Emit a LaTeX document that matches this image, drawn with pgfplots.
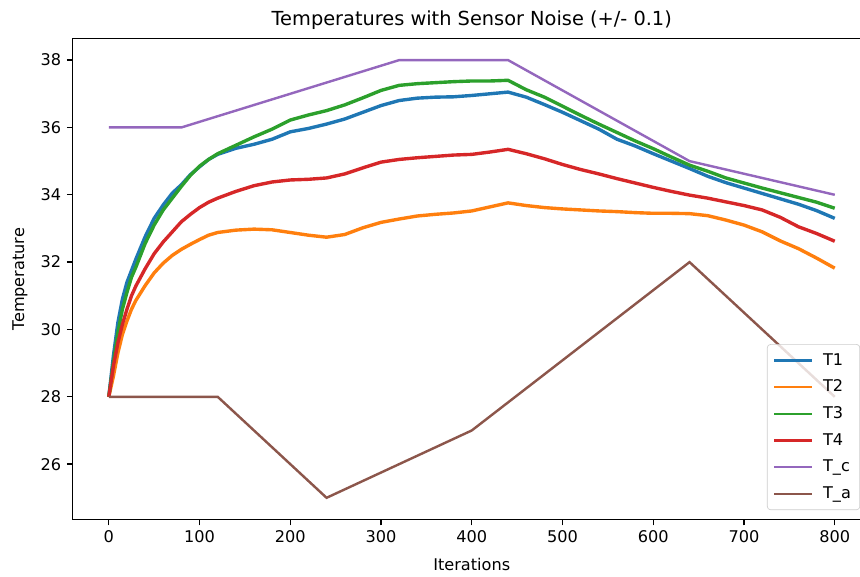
\documentclass[border=0pt]{standalone}
\usepackage{fontspec}
\setmainfont{DejaVu Sans}
\usepackage{pgfplots}
\usepackage{pgfplotstable}
\pgfplotsset{compat=1.18}
\definecolor{cA}{HTML}{1F77B4}
\definecolor{cB}{HTML}{FF7F0E}
\definecolor{cC}{HTML}{2CA02C}
\definecolor{cD}{HTML}{D62728}
\definecolor{cE}{HTML}{9467BD}
\definecolor{cF}{HTML}{8C564B}

\pgfplotstableread{
it T1 T2 T3 T4
0 28.00 28.00 28.00 28.00
5 29.20 28.60 29.00 28.90
10 30.20 29.30 29.90 29.60
15 30.90 29.85 30.60 30.15
20 31.40 30.25 31.10 30.60
25 31.75 30.60 31.55 31.00
30 32.10 30.87 31.86 31.30
40 32.75 31.30 32.55 31.80
50 33.30 31.68 33.10 32.25
60 33.70 31.97 33.55 32.60
70 34.05 32.20 33.90 32.90
80 34.30 32.38 34.25 33.20
90 34.60 32.53 34.58 33.42
100 34.83 32.67 34.85 33.62
110 35.05 32.80 35.05 33.78
120 35.20 32.88 35.22 33.90
140 35.38 32.95 35.47 34.10
160 35.50 32.98 35.72 34.27
180 35.65 32.96 35.95 34.38
200 35.87 32.88 36.22 34.44
220 35.97 32.80 36.37 34.46
240 36.10 32.74 36.50 34.50
260 36.25 32.82 36.67 34.62
280 36.45 33.02 36.88 34.80
300 36.65 33.18 37.10 34.97
320 36.80 33.28 37.25 35.05
340 36.87 33.37 37.30 35.10
360 36.90 33.42 37.33 35.14
380 36.91 33.46 37.36 35.18
400 36.95 33.52 37.38 35.20
420 37.00 33.64 37.38 35.27
440 37.05 33.76 37.40 35.35
460 36.90 33.68 37.12 35.22
480 36.68 33.62 36.90 35.07
500 36.45 33.58 36.63 34.90
520 36.20 33.55 36.36 34.75
540 35.95 33.52 36.10 34.62
560 35.65 33.50 35.85 34.48
580 35.45 33.47 35.60 34.35
600 35.22 33.45 35.37 34.22
620 35.00 33.45 35.12 34.10
640 34.78 33.44 34.88 33.99
660 34.55 33.38 34.70 33.90
680 34.36 33.25 34.50 33.79
700 34.20 33.10 34.35 33.68
720 34.04 32.90 34.20 33.55
740 33.88 32.63 34.06 33.33
760 33.72 32.40 33.92 33.05
780 33.53 32.12 33.78 32.85
800 33.30 31.82 33.60 32.62
}\temps

\pgfplotstableread{
it Tc
0 36
80 36
320 38
440 38
640 35
800 34
}\tc

\pgfplotstableread{
it Ta
0 28
120 28
240 25
400 27
640 32
800 28
}\ta

\begin{document}
\begin{tikzpicture}
\useasboundingbox (-44.95pt,-34.97pt) rectangle (488.25pt,322.2pt);
\clip (-44.95pt,-34.97pt) rectangle (488.25pt,322.2pt);
\begin{axis}[
  at={(0pt,0pt)}, anchor=south west,
  scale only axis, width=495.1pt, height=298.5pt,
  xmin=-40, xmax=840, ymin=24.35, ymax=38.65,
  xtick={0,100,...,800}, ytick={26,28,...,38},
  tick align=outside, major tick length=3.5pt,
  tick style={black, line width=0.8pt},
  xtick pos=bottom, ytick pos=left,
  axis line style={black, line width=0.8pt},
  /pgf/number format/assume math mode=true,
  ticklabel style={font=\fontsize{10}{12}\selectfont},
  every axis title shift=0pt,
  title={Temperatures with Sensor Noise (+/- 0.1)},
  title style={font=\fontsize{12}{14}\selectfont, at={(axis description cs:0.5,1.027)}, anchor=base},
  xlabel={Iterations},
  xlabel style={font=\fontsize{10}{12}\selectfont, at={(axis description cs:0.5,-0.094)}, anchor=center},
  ylabel={Temperature},
  ylabel style={font=\fontsize{10}{12}\selectfont, at={(axis description cs:-0.066,0.5)}, anchor=center},
  legend cell align=left,
  legend image code/.code={\draw[#1, line width=1.5pt] (0pt,0pt) -- (23.6pt,0pt);},
  legend style={at={(axis description cs:0.8697,0.3647)}, anchor=north west,
    draw=black!20, rounded corners=2pt, fill=white, fill opacity=0.8, text opacity=1,
    font=\fontsize{10}{12}\selectfont, row sep=3.7pt, column sep=4pt, inner sep=3.5pt},
]
\addplot[cA, line width=2.1pt] table[x=it, y=T1] {\temps};
\addlegendentry{T1}
\addplot[cB, line width=2.1pt] table[x=it, y=T2] {\temps};
\addlegendentry{T2}
\addplot[cC, line width=2.1pt] table[x=it, y=T3] {\temps};
\addlegendentry{T3}
\addplot[cD, line width=2.1pt] table[x=it, y=T4] {\temps};
\addlegendentry{T4}
\addplot[cE, line width=1.5pt] table[x=it, y=Tc] {\tc};
\addlegendentry{T\_c}
\addplot[cF, line width=1.5pt] table[x=it, y=Ta] {\ta};
\addlegendentry{T\_a}
\end{axis}
\end{tikzpicture}
\end{document}
